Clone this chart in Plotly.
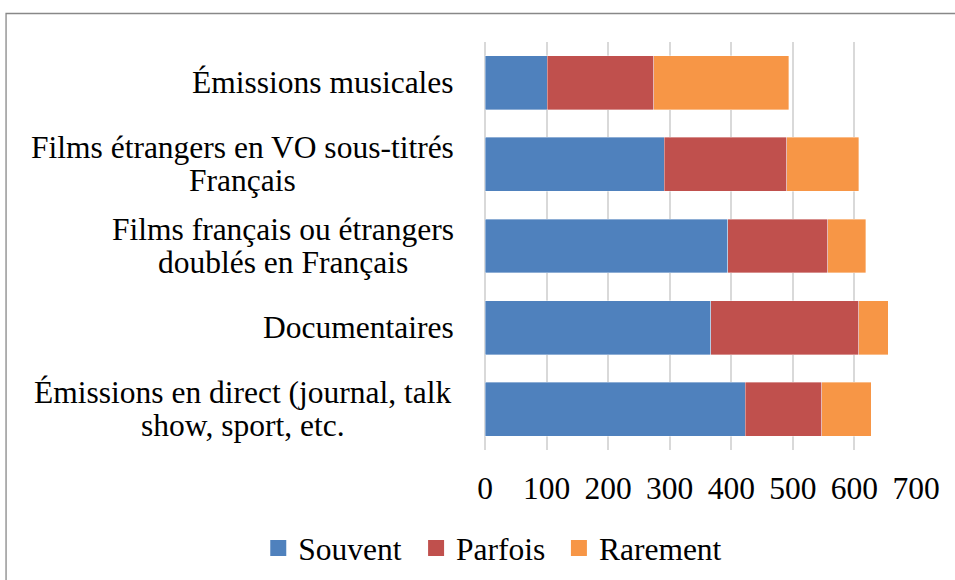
import plotly.graph_objects as go

categories = [
    "Émissions musicales",
    "Films étrangers en VO sous-titrés\nFrançais",
    "Films français ou étrangers\ndoublés en Français",
    "Documentaires",
    "Émissions en direct (journal, talk\nshow, sport, etc.",
]
souvent = [101, 291, 394, 367, 423]
parfois = [173, 199, 163, 240, 124]
rarement = [219, 117, 61, 48, 80]
series_names = ["Souvent", "Parfois", "Rarement"]
colors = ["#4F81BD", "#C0504D", "#F79646"]
tick_vals = [0, 100, 200, 300, 400, 500, 600, 700]

FONT = "Liberation Serif, Times New Roman, serif"
FS = 31.5

ykeys = [c.replace("\n", " ") for c in categories]

L, R, T, B = 485, 38.5, 42, 130
W, H = 955, 580
pw, ph = W - L - R, H - T - B

fig = go.Figure()
for name, vals, col in zip(series_names, [souvent, parfois, rarement], colors):
    fig.add_trace(go.Bar(
        y=ykeys, x=vals, orientation="h", name=name,
        marker=dict(color=col, line=dict(color="rgba(255,255,255,0.6)", width=0.6)),
        showlegend=False,
    ))

legend_ids = ["legend", "legend2", "legend3"]
legend_left_px = [258, 416, 559]
for name, col, lid in zip(series_names, colors, legend_ids):
    fig.add_trace(go.Scatter(
        x=[None], y=[None], mode="markers", name=name, legend=lid,
        marker=dict(symbol="square", size=16, color=col),
    ))

# Category labels: right-aligned block, wrapped lines centred under the first line
RIGHT_SHIFT = -29          # px from axis to right edge of label block
LINE_HALF = 16.5           # px half line spacing
block_center_px = [None, 242, 283, None, 243]   # centre of wrapped label blocks (page px)
annotations = []
for key, cat, cx in zip(ykeys, categories, block_center_px):
    lines = cat.split("\n")
    base = dict(xref="paper", yref="y", x=0, y=key, yanchor="middle", showarrow=False,
                font=dict(family=FONT, size=FS, color="black"))
    if len(lines) == 1:
        annotations.append(dict(text=lines[0], xanchor="right", xshift=RIGHT_SHIFT, **base))
    else:
        annotations.append(dict(text=lines[0], xanchor="center", xshift=cx - L,
                                yshift=LINE_HALF, **base))
        annotations.append(dict(text=lines[1], xanchor="center", xshift=cx - L,
                                yshift=-LINE_HALF, **base))

legend_layouts = {}
for lid, lx in zip(legend_ids, legend_left_px):
    legend_layouts[lid] = dict(orientation="h", xref="paper", yref="paper",
                               x=(lx - L) / pw, y=-(548 - (H - B)) / ph,
                               xanchor="left", yanchor="middle",
                               font=dict(family=FONT, size=FS, color="black"),
                               bgcolor="rgba(0,0,0,0)")

fig.update_layout(
    width=W, height=H,
    margin=dict(l=L, r=R, t=T, b=B, pad=0, autoexpand=False),
    paper_bgcolor="white", plot_bgcolor="white",
    barmode="stack", bargap=0.34,
    font=dict(family=FONT, size=FS, color="black"),
    xaxis=dict(range=[0, 700], tickvals=tick_vals, showgrid=True, gridcolor="#d9d9d9", gridwidth=2,
               zeroline=True, zerolinecolor="#d9d9d9", zerolinewidth=2, showline=False,
               ticks="", ticklabelstandoff=16, tickfont=dict(family=FONT, size=FS, color="black"),
               fixedrange=True),
    yaxis=dict(categoryorder="array", categoryarray=ykeys, autorange="reversed",
               showticklabels=False, showgrid=False, zeroline=False, showline=False, ticks=""),
    annotations=annotations,
    shapes=[dict(type="rect", xref="paper", yref="paper",
                 x0=(5.5 - L) / pw, x1=(960 - L) / pw,
                 y0=-(585 - (H - B)) / ph, y1=1 + (T - 13.5) / ph,
                 line=dict(color="#888888", width=1.3), layer="below")],
    **legend_layouts,
)

fig.write_html("out.html", config={"displayModeBar": False},
               post_script="document.body.style.margin='0px';")
